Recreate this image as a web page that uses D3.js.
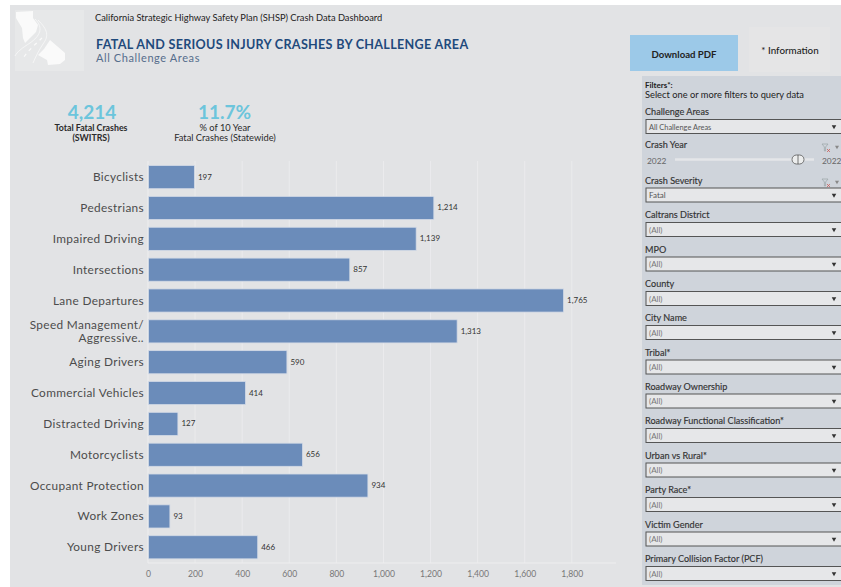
<!DOCTYPE html>
<html>
<head>
<meta charset="utf-8">
<script src="https://cdnjs.cloudflare.com/ajax/libs/d3/7.8.5/d3.min.js"></script>
<style>
html,body{margin:0;padding:0;background:#fff;overflow:hidden}
text{font-family:Lato,"Open Sans",sans-serif}
</style>
</head>
<body>
<svg id="dash" width="841" height="587"></svg>
<script>
const categories = ["Bicyclists","Pedestrians","Impaired Driving","Intersections","Lane Departures","Speed Management/|Aggressive..","Aging Drivers","Commercial Vehicles","Distracted Driving","Motorcyclists","Occupant Protection","Work Zones","Young Drivers"];
const crashCounts = [197,1214,1139,857,1765,1313,590,414,127,656,934,93,466];
const axisTicks = [0,200,400,600,800,1000,1200,1400,1600,1800];
const filterLabels = ["Challenge Areas","Crash Year","Crash Severity","Caltrans District","MPO","County","City Name","Tribal*","Roadway Ownership","Roadway Functional Classification*","Urban vs Rural*","Party Race*","Victim Gender","Primary Collision Factor (PCF)"];
const filterValues = ["All Challenge Areas",null,"Fatal","(All)","(All)","(All)","(All)","(All)","(All)","(All)","(All)","(All)","(All)","(All)"];
const filterLabelY = [112,145,180.5,215,249.5,284,318,352.5,386.5,421,455.5,490,524.5,559];
const kpiValues = ["4,214","11.7%"];

const svg = d3.select("#dash");

// dashboard background and sidebar
svg.append("rect").attr("x",10).attr("y",5).attr("width",831).attr("height",582).attr("fill","#e2e3e5");
svg.append("rect").attr("x",642).attr("y",76).attr("width",199).attr("height",509).attr("fill","#cfd4db");

// header logo tile: state outline crossed by a winding road
const logo = svg.append("g");
logo.append("rect").attr("x",15).attr("y",10).attr("width",69).attr("height",61).attr("fill","#e7e8e9");
logo.append("path").attr("fill","#fafafa")
  .attr("d","M16 12L33 11L33 18L38 25L36 32L30 38L25 43L23 38L22 28L16 18Z");
logo.append("path").attr("fill","#fafafa")
  .attr("d","M50 40L65 53L65 60L60 64L48 65L47 60L38 55L44 49Z");
logo.append("path").attr("fill","none").attr("stroke","#fafafa").attr("stroke-width",0.7)
  .attr("d","M35 19C44 28 40 36 30 43C22 48 17 52 15 56");
logo.append("path").attr("fill","none").attr("stroke","#fafafa").attr("stroke-width",0.7)
  .attr("d","M38 20C48 30 49 36 43 44C39 50 36 56 33 63");
logo.append("path").attr("fill","none").attr("stroke","#fafafa").attr("stroke-width",1.2).attr("stroke-dasharray","3.5 4")
  .attr("d","M42 38C36 44 28 50 22 60");

// header text
svg.append("text").attr("x",95).attr("y",21).attr("font-size",9.3).attr("fill","#222")
  .text("California Strategic Highway Safety Plan (SHSP) Crash Data Dashboard");
svg.append("text").attr("x",96).attr("y",48.5).attr("font-size",12.6).attr("font-weight",700).attr("fill","#1f4a7c").attr("letter-spacing",0.29)
  .text("FATAL AND SERIOUS INJURY CRASHES BY CHALLENGE AREA");
svg.append("text").attr("x",96).attr("y",61.5).attr("font-size",11).attr("fill","#566d8c").attr("letter-spacing",0.6)
  .text("All Challenge Areas");

// headline figures
const kpis = svg.selectAll("g.kpi").data(kpiValues).join("g").attr("class","kpi");
kpis.append("text").attr("x",(d,i)=>[92,224.5][i]).attr("y",119).attr("text-anchor","middle")
  .attr("font-size",19).attr("font-weight",700).attr("fill","#6cc5dc").text(d=>d);
const kpiCaptions = [["Total Fatal Crashes","(SWITRS)"],["% of 10 Year","Fatal Crashes (Statewide)"]];
kpiCaptions.forEach((lines,i)=>lines.forEach((t,j)=>{
  svg.append("text").attr("x",[91,225][i]).attr("y",131+j*10).attr("text-anchor","middle")
    .attr("font-size",i===0?8.8:9.3).attr("font-weight",i===0?700:400).attr("fill","#2a2a2a").text(t);
}));

// bar chart
const x = d3.scaleLinear().domain([0,1800]).range([148,571.8]);
const y = d3.scaleBand().domain(categories).range([161.7,562.7]).paddingInner(0.25).paddingOuter(0.125);

svg.append("g").selectAll("line").data(axisTicks.slice(1)).join("line")
  .attr("x1",d=>x(d)).attr("x2",d=>x(d)).attr("y1",161).attr("y2",563)
  .attr("stroke","#ebebed").attr("stroke-width",1);

const axis = svg.append("g").attr("transform","translate(0,563)")
  .call(d3.axisBottom(x).tickValues(axisTicks).tickFormat(d3.format(",")).tickSize(0).tickPadding(7.5));
axis.select(".domain").remove();
axis.selectAll("text").attr("font-size",8.6).attr("fill","#777").style("font-family","Lato,sans-serif");
svg.append("line").attr("x1",148).attr("x2",616).attr("y1",563).attr("y2",563).attr("stroke","#eeeeef");
svg.append("line").attr("x1",148).attr("x2",148).attr("y1",161).attr("y2",563).attr("stroke","#eeeeef");

svg.append("g").selectAll("rect").data(categories).join("rect")
  .attr("x",x(0)+0.5).attr("y",d=>y(d))
  .attr("width",(d,i)=>x(crashCounts[i])-x(0)-0.5).attr("height",y.bandwidth())
  .attr("fill","#6b8cba").attr("stroke","#d3dae6").attr("stroke-width",0.8);

svg.append("g").selectAll("text").data(categories).join("text")
  .attr("x",(d,i)=>x(crashCounts[i])+3.5).attr("y",d=>y(d)+y.bandwidth()/2+2.5)
  .attr("font-size",8).attr("fill","#333")
  .text((d,i)=>d3.format(",")(crashCounts[i]));

const catLabels = svg.append("g").selectAll("g").data(categories).join("g");
catLabels.each(function(d){
  const lines = d.split("|");
  const cy = y(d)+y.bandwidth()/2;
  d3.select(this).selectAll("text").data(lines).join("text")
    .attr("x",144).attr("text-anchor","end").attr("font-size",11.8).attr("fill","#4c4c4c").attr("letter-spacing",0.35)
    .attr("y",(t,i)=>cy+4+(i-(lines.length-1)/2)*13.4).text(t=>t);
});

// download and information buttons
svg.append("rect").attr("x",630).attr("y",35).attr("width",108).attr("height",36).attr("fill","#9cc9e8");
svg.append("text").attr("x",684).attr("y",57.5).attr("text-anchor","middle").attr("font-size",9.6).attr("font-weight",700).attr("fill","#222").text("Download PDF");
svg.append("rect").attr("x",749).attr("y",27).attr("width",81).attr("height",45).attr("fill","#e5e5e6");
svg.append("text").attr("x",790).attr("y",53.5).attr("text-anchor","middle").attr("font-size",9.8).attr("font-weight",500).attr("fill","#222").text("* Information");

// filter panel
svg.append("text").attr("x",645).attr("y",88).attr("font-size",8).attr("font-weight",700).attr("fill","#222").text("Filters*:");
svg.append("text").attr("x",645).attr("y",98).attr("font-size",9.3).attr("fill","#222").text("Select one or more filters to query data");

const filters = svg.append("g").selectAll("g").data(filterLabels).join("g");
filters.append("text").attr("x",645).attr("y",(d,i)=>filterLabelY[i]+3)
  .attr("font-size",9.1).attr("font-weight",400).attr("fill","#333").attr("stroke","#333").attr("stroke-width",0.15).text(d=>d);
filters.filter((d,i)=>filterValues[i]!==null).each(function(d){
  const i = filterLabels.indexOf(d);
  const g = d3.select(this), top = filterLabelY[i]+7.5;
  g.append("rect").attr("x",646).attr("y",top).attr("width",196).attr("height",14)
    .attr("fill","#e6e7e9").attr("stroke","#555").attr("stroke-width",1);
  g.append("text").attr("x",649).attr("y",top+10).attr("font-size",i===0?7.4:8).attr("fill",i<=2?"#555":"#777").text(filterValues[i]);
  g.append("path").attr("d",d3.symbol(d3.symbolTriangle,9)).attr("fill","#333")
    .attr("transform",`translate(834,${top+7}) rotate(180)`);
});

// year slider
const yearRow = svg.append("g");
yearRow.append("text").attr("x",647).attr("y",164).attr("font-size",8.4).attr("fill","#666").text("2022");
yearRow.append("text").attr("x",822).attr("y",164).attr("font-size",8.4).attr("fill","#666").text("2022");
yearRow.append("line").attr("x1",675).attr("x2",814).attr("y1",159.5).attr("y2",159.5).attr("stroke","#e4e6e9").attr("stroke-width",2.4);
yearRow.append("rect").attr("x",792).attr("y",155).attr("width",12).attr("height",9).attr("rx",4.5).attr("fill","#eceded").attr("stroke","#555").attr("stroke-width",0.8);
yearRow.append("line").attr("x1",798).attr("x2",798).attr("y1",155).attr("y2",164).attr("stroke","#555").attr("stroke-width",0.8);

// funnel and menu markers on the two filtered rows
[145,180].forEach(yy=>{
  const g = svg.append("g").attr("transform",`translate(822,${yy-1})`);
  g.append("path").attr("d","M0 0H6L3.6 3V7H2.4V3Z").attr("fill","none").attr("stroke","#9aa3a6").attr("stroke-width",0.7);
  g.append("path").attr("d","M5 5L8 8M8 5L5 8").attr("stroke","#c8504a").attr("stroke-width",0.7);
  g.append("path").attr("d",d3.symbol(d3.symbolTriangle,7)).attr("fill","#888").attr("transform","translate(15,3) rotate(180)");
});
</script>
</body>
</html>
